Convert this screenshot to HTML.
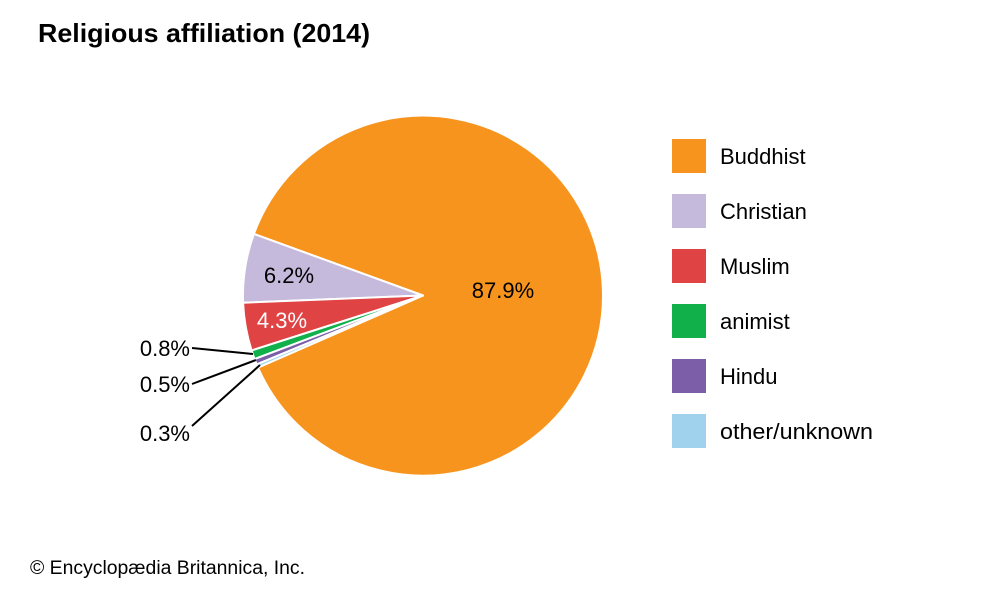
<!DOCTYPE html>
<html><head><meta charset="utf-8"><style>
body{margin:0;background:#fff;width:1000px;height:595px;overflow:hidden;font-family:"Liberation Sans",Arial,sans-serif}
</style></head><body>
<svg width="1000" height="595" viewBox="0 0 1000 595" xmlns="http://www.w3.org/2000/svg" font-family="Liberation Sans, Arial, sans-serif">
<rect width="1000" height="595" fill="#fff"/>
<text x="38" y="42" font-size="26" font-weight="bold" fill="#000" textLength="332" lengthAdjust="spacingAndGlyphs">Religious affiliation (2014)</text>
<g stroke="#fff" stroke-width="2" stroke-linejoin="round">
<path d="M423,295.5 L258.0,367.6 A180,180 0 1 0 253.9,233.9 Z" fill="#F7941D"/>
<path d="M423,295.5 L253.9,233.9 A180,180 0 0 0 243.1,302.7 Z" fill="#C5B9DC"/>
<path d="M423,295.5 L243.1,302.7 A180,180 0 0 0 251.6,350.5 Z" fill="#DF4343"/>
<path d="M423,295.5 L251.6,350.5 A180,180 0 0 0 254.6,359.1 Z" fill="#12B04B"/>
<path d="M423,295.5 L254.6,359.1 A180,180 0 0 0 256.7,364.4 Z" fill="#7B5EA7"/>
<path d="M423,295.5 L256.7,364.4 A180,180 0 0 0 258.0,367.6 Z" fill="#A0D2EE"/>
</g>
<text x="503" y="298" font-size="22" text-anchor="middle" fill="#000">87.9%</text>
<text x="289" y="283" font-size="22" text-anchor="middle" fill="#000">6.2%</text>
<text x="282" y="328" font-size="22" text-anchor="middle" fill="#fff">4.3%</text>
<g stroke="#000" stroke-width="2" fill="none">
<line x1="192" y1="348" x2="253" y2="354"/>
<line x1="192" y1="384" x2="256" y2="360"/>
<line x1="192" y1="426" x2="260" y2="365"/>
</g>
<g font-size="22" fill="#000" text-anchor="end">
<text x="190" y="356">0.8%</text>
<text x="190" y="392">0.5%</text>
<text x="190" y="441">0.3%</text>
</g>
<g>
<rect x="672" y="139" width="34" height="34" fill="#F7941D"/>
<rect x="672" y="194" width="34" height="34" fill="#C5B9DC"/>
<rect x="672" y="249" width="34" height="34" fill="#DF4343"/>
<rect x="672" y="304" width="34" height="34" fill="#12B04B"/>
<rect x="672" y="359" width="34" height="34" fill="#7B5EA7"/>
<rect x="672" y="414" width="34" height="34" fill="#A0D2EE"/>
</g>
<g font-size="22" fill="#000">
<text x="720" y="164">Buddhist</text>
<text x="720" y="219">Christian</text>
<text x="720" y="274">Muslim</text>
<text x="720" y="329">animist</text>
<text x="720" y="384">Hindu</text>
<text x="720" y="439" textLength="153" lengthAdjust="spacingAndGlyphs">other/unknown</text>
</g>
<text x="30" y="574" font-size="19" fill="#000" textLength="275" lengthAdjust="spacingAndGlyphs">© Encyclopædia Britannica, Inc.</text>
</svg>
</body></html>
